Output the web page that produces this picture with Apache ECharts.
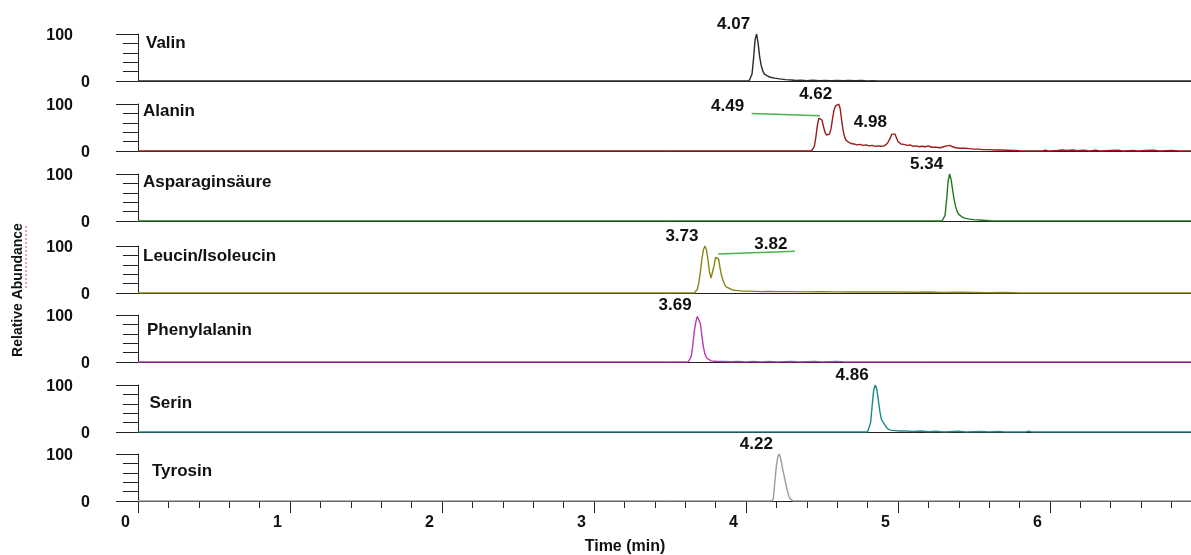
<!DOCTYPE html>
<html>
<head>
<meta charset="utf-8">
<script src="https://cdn.jsdelivr.net/npm/echarts@6/dist/echarts.min.js"></script>
<style>
html,body{margin:0;padding:0;background:#fff;}
#chart{width:1191px;height:555px;}
</style>
</head>
<body>
<div id="chart"></div>
<script>
// ---------- DATA ----------
const compounds = ['Valin','Alanin','Asparaginsäure','Leucin/Isoleucin','Phenylalanin','Serin','Tyrosin'];
const xTicks = [0,1,2,3,4,5,6];
const xMinorTicks = [0.2,0.4,0.6,0.8,1.2,1.4,1.6,1.8,2.2,2.4,2.6,2.8,3.2,3.4,3.6,3.8,4.2,4.4,4.6,4.8,5.2,5.4,5.6,5.8,6.2,6.4,6.6,6.8];
const xMax = 6.928;
const yTicks = [0,100];

const valin = [[0,0],[4.02,0],[4.03,3],[4.04,15],[4.05,48],[4.06,88],[4.07,100],[4.08,80],[4.09,52],[4.10,33],[4.11,22],[4.12,15],[4.14,11],[4.16,8],[4.19,6],[4.22,4.5],[4.26,3],[4.30,2],[4.33,1],[4.36,1.8],[4.40,0.8],[4.44,1.5],[4.48,0.6],[4.52,1.3],[4.56,0.5],[4.60,1.2],[4.64,0.4],[4.68,1.2],[4.72,0.5],[4.76,1],[4.80,0],[4.84,0.8],[4.86,0],[5.2,0],[7,0]];

const alanin = [[0,0],[3.85,0],[3.86,1],[3.87,0],[4.43,0],[4.44,2],[4.45,10],[4.46,30],[4.47,55],[4.48,70],[4.49,73],[4.50,66],[4.51,52],[4.52,40],[4.53,34],[4.54,33],[4.55,36],[4.56,48],[4.57,70],[4.58,88],[4.59,96],[4.61,100],[4.62,90],[4.63,64],[4.64,42],[4.65,29],[4.66,22],[4.67,19],[4.69,16],[4.71,15],[4.73,13],[4.75,14],[4.77,12],[4.79,13],[4.81,11],[4.83,12],[4.85,10],[4.87,11],[4.89,10],[4.91,11],[4.93,16],[4.95,28],[4.96,36],[4.97,39],[4.98,36],[4.99,28],[5.00,20],[5.02,15],[5.04,14],[5.06,12],[5.08,13],[5.10,10],[5.12,11],[5.14,9],[5.16,10],[5.18,9],[5.20,11],[5.22,8],[5.25,8],[5.28,7],[5.30,9],[5.32,11],[5.34,12],[5.36,9],[5.38,7],[5.41,6],[5.44,6],[5.47,5],[5.50,4],[5.53,4],[5.56,3],[5.60,3],[5.64,2],[5.68,2],[5.72,1.5],[5.76,1],[5.80,0.5],[5.85,0],[5.95,0],[5.97,1.5],[5.99,0],[6.05,1],[6.08,2],[6.11,1],[6.15,2],[6.18,0.5],[6.22,1.5],[6.26,0],[6.30,1.5],[6.33,0],[6.40,1],[6.45,1.5],[6.48,0],[6.55,1.2],[6.58,0],[6.63,1],[6.68,1.5],[6.72,0],[6.80,1],[6.85,0],[7,0]];

const asparagin = [[0,0],[4.29,0],[4.30,1],[4.31,0],[5.29,0],[5.30,2],[5.31,12],[5.32,45],[5.33,85],[5.34,100],[5.35,88],[5.36,65],[5.37,45],[5.38,30],[5.39,20],[5.40,14],[5.42,9],[5.44,6],[5.47,4],[5.50,3],[5.54,2],[5.58,1],[5.62,0],[7,0]];

const leucin = [[0,0],[3.66,0],[3.67,2],[3.68,8],[3.69,22],[3.70,45],[3.71,72],[3.72,92],[3.73,100],[3.74,92],[3.75,70],[3.76,45],[3.77,32],[3.78,36],[3.79,58],[3.80,76],[3.81,80],[3.82,72],[3.83,52],[3.84,36],[3.85,26],[3.86,18],[3.87,13],[3.88,10],[3.90,8],[3.92,6],[3.95,5],[3.98,4],[4.02,4],[4.06,3.5],[4.10,3],[4.15,3.5],[4.20,3],[4.30,3],[4.40,2.5],[4.50,3],[4.60,2.5],[4.70,2],[4.80,2.5],[4.90,2],[5.00,2],[5.10,1.5],[5.20,2],[5.30,1],[5.40,1.5],[5.50,1],[5.60,0.5],[5.70,1],[5.80,0],[7,0]];

const phenyl = [[0,0],[3.62,0],[3.63,3],[3.64,12],[3.65,35],[3.66,65],[3.67,85],[3.68,97],[3.685,100],[3.69,98],[3.70,82],[3.71,55],[3.72,32],[3.73,17],[3.74,9],[3.75,5],[3.77,2.5],[3.80,1.5],[3.85,1],[3.90,0.5],[3.95,1],[4.00,0],[4.05,1],[4.10,0],[4.15,1.2],[4.20,0],[4.30,1],[4.35,0],[4.45,1],[4.50,0],[4.60,1],[4.65,0],[7,0]];

const serin = [[0,0],[0.60,0],[0.61,1],[0.62,0],[4.80,0],[4.81,3],[4.82,20],[4.83,55],[4.84,88],[4.85,100],[4.86,92],[4.87,70],[4.88,46],[4.89,28],[4.90,22],[4.91,20],[4.92,12],[4.93,7],[4.95,4],[4.98,3],[5.01,2],[5.05,2.5],[5.10,1],[5.15,2],[5.20,0.5],[5.25,1.5],[5.30,0],[5.40,1.5],[5.45,0],[5.55,1],[5.60,0],[5.66,1.2],[5.70,0],[5.84,0],[5.86,2],[5.88,0],[7,0]];

const tyrosin = [[0,0],[4.17,0],[4.18,5],[4.19,40],[4.20,75],[4.21,95],[4.22,100],[4.23,88],[4.24,70],[4.25,55],[4.26,40],[4.27,25],[4.28,13],[4.29,5],[4.30,1],[4.31,0],[7,0]];

const traces = [valin, alanin, asparagin, leucin, phenyl, serin, tyrosin];

// peak annotations: [text, time, abundance, anchor]
const peakLabels = [
  [['4.07',4.07,100,'peak']],
  [['4.49',4.037,80,'leader'],['4.62',4.61,100,'peak'],['4.98',4.97,39,'peak']],
  [['5.34',5.34,100,'peak']],
  [['3.73',3.73,100,'peak'],['3.82',4.322,89,'leader']],
  [['3.69',3.685,100,'peak']],
  [['4.86',4.85,100,'peak']],
  [['4.22',4.22,100,'peak']]
];
// leader lines: [panel, start, end]
const leaderLines = [
  [1,[4.037,80],[4.487,75]],
  [3,[3.817,83],[4.322,89]]
];

// ---------- STYLE / LAYOUT ----------
const colors = ['#2a2a2a','#9b1c1c','#1f7a1f','#8a8418','#b33cb3','#1a8a8a','#9a9a9a'];
const gridTops = [34,104,174,246,315,385,454];
const gridH = 47;
const labelPos = [[146,43],[143,111.5],[143,182],[143,256],[147,330.5],[149.5,403],[152,471.5]];
const FONT = 'Liberation Sans, Arial, sans-serif';
const axisColor = '#222';

const grids = [], xAxes = [], yAxes = [], series = [], graphics = [];
for (let i = 0; i < 7; i++) {
  grids.push({left:138, top:gridTops[i], right:0, height:gridH});
  const isLast = i === 6;
  xAxes.push({
    type:'value', gridIndex:i, min:0, max:xMax, interval:1,
    axisLine:{show:true, onZero:false, lineStyle:{color:axisColor, width:1}},
    axisTick:{show:isLast, length:12, customValues:xTicks, lineStyle:{color:axisColor}},
    axisLabel:{show:isLast, margin:14, padding:[0,25,0,0], customValues:xTicks, fontFamily:FONT, fontWeight:'bold', fontSize:16, color:'#111',
      formatter:v => xTicks.indexOf(v) >= 0 ? String(v) : ''},
    splitLine:{show:false}
  });
  yAxes.push({
    type:'value', gridIndex:i, min:0, max:100, interval:100,
    axisLine:{show:true, lineStyle:{color:axisColor, width:1}},
    axisTick:{show:true, length:22, lineStyle:{color:axisColor}},
    minorTick:{show:true, splitNumber:5, length:15, lineStyle:{color:axisColor}},
    axisLabel:{show:true, margin:48, align:'right', fontFamily:FONT, fontWeight:'bold', fontSize:16, color:'#111',
      formatter:v => v === yTicks[1] ? '{h|' + v + '}' : '{z|' + v + '}',
      rich:{
        h:{padding:[3,17,0,0], fontFamily:FONT, fontWeight:'bold', fontSize:16, color:'#111'},
        z:{padding:[3,0,0,0], fontFamily:FONT, fontWeight:'bold', fontSize:16, color:'#111'}
      }},
    splitLine:{show:false}
  });
  const mp = peakLabels[i].map(p => ({
    coord:[p[1],p[2]], value:p[0],
    label:{offset: p[3] === 'leader' ? [-24,-7] : [-23,-10]}
  }));
  const ml = leaderLines.filter(l => l[0] === i).map(l => [{coord:l[1]},{coord:l[2]}]);
  series.push({
    type:'line', xAxisIndex:i, yAxisIndex:i, data:traces[i],
    showSymbol:false, symbol:'none', smooth:false, z:3,
    lineStyle:{color:colors[i], width:1.4},
    markPoint:{
      symbol:'circle', symbolSize:1, itemStyle:{color:'rgba(0,0,0,0)'},
      label:{show:true, position:'inside', formatter:'{c}', fontFamily:FONT, fontWeight:'bold', fontSize:17, color:'#111'},
      data:mp, animation:false
    },
    markLine: ml.length ? {
      symbol:['none','none'], silent:true, animation:false,
      lineStyle:{color:'#4cb34c', width:1.5, type:'solid'},
      label:{show:false}, data:ml
    } : undefined
  });
  graphics.push({
    type:'text', x:labelPos[i][0], y:labelPos[i][1],
    style:{text:compounds[i], font:'bold 17px ' + FONT, fill:'#111', textAlign:'left', textVerticalAlign:'middle'}
  });
}
// minor ticks (0.2 min) on the bottom time axis
xAxes.push({
  type:'value', gridIndex:6, min:0, max:xMax, interval:0.2, position:'bottom',
  axisLine:{show:false},
  axisTick:{show:true, length:7, customValues:xMinorTicks, lineStyle:{color:axisColor}},
  axisLabel:{show:false}, splitLine:{show:false}
});
graphics.push({
  type:'text', x:625, y:547,
  style:{text:'Time (min)', font:'bold 16px ' + FONT, fill:'#111', textAlign:'center', textVerticalAlign:'middle'}
});
graphics.push({
  type:'text', x:18, y:290, rotation:Math.PI/2,
  style:{text:'Relative Abundance', font:'bold 14px ' + FONT, fill:'#111', textAlign:'center', textVerticalAlign:'middle'}
});
graphics.push({
  type:'line', shape:{x1:26, y1:226, x2:26, y2:290},
  style:{stroke:'#e04040', lineWidth:1, lineDash:[2,2]}
});

const chart = echarts.init(document.getElementById('chart'), null, {renderer:'canvas'});
chart.setOption({
  animation:false,
  backgroundColor:'#fff',
  grid:grids, xAxis:xAxes, yAxis:yAxes, series:series, graphic:graphics
});
</script>
</body>
</html>
